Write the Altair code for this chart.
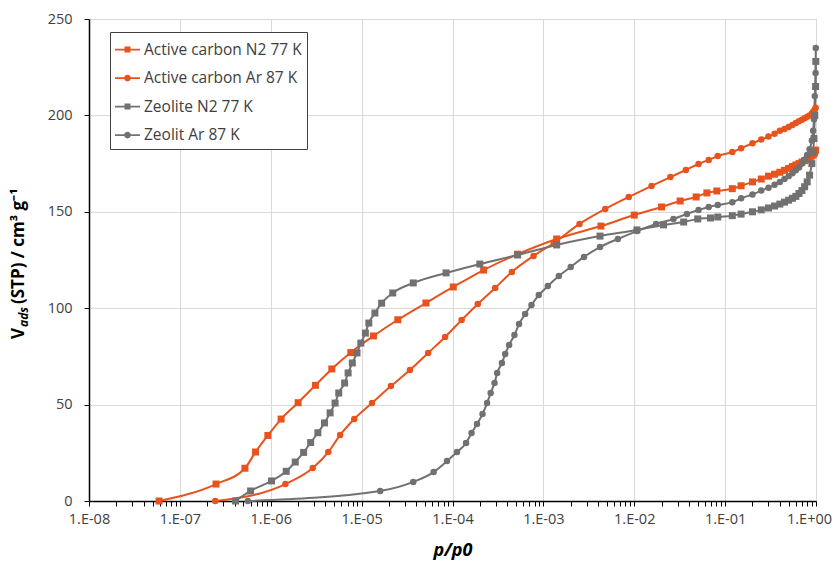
import altair as alt
import pandas as pd

SERIES = ["Active carbon N2 77 K", "Active carbon Ar 87 K", "Zeolite N2 77 K", "Zeolit Ar 87 K"]
COLORS = ["#E8531D", "#E8531D", "#717171", "#717171"]
MARKERS = ["square", "circle", "square", "circle"]

# high-pressure relative pressures shared by the tails of all isotherms
TAIL_P = [0.12, 0.15, 0.2, 0.25, 0.3, 0.35, 0.4, 0.45, 0.5, 0.55, 0.6, 0.65,
          0.7, 0.75, 0.8, 0.85, 0.9, 0.93, 0.95, 0.97, 0.99]

ac_n2_p = [5.9e-8, 2.5e-7, 5.2e-7, 6.8e-7, 9.3e-7, 1.3e-6, 2.0e-6, 3.1e-6, 4.7e-6,
           7.6e-6, 1.35e-5, 2.5e-5, 5.1e-5, 1.02e-4, 2.2e-4, 5.2e-4, 1.4e-3, 4.3e-3,
           1.0e-2, 2.0e-2, 3.2e-2, 4.8e-2, 6.3e-2, 8.1e-2] + TAIL_P
ac_n2_v = [0, 8.8, 17, 25.4, 34, 42.5, 51, 60, 68.5, 77, 85.6, 94, 102.7, 111, 119.8,
           128, 135.9, 142.6, 148.3, 152.5, 155.6, 157.7, 159.8, 160.8,
           162, 163.5, 165.5, 167, 168.5, 169.5, 170.5, 171.5, 172.5, 173.5, 174.3,
           175, 175.8, 176.5, 177.2, 178, 179, 179.6, 180.2, 181, 182]

ac_ar_p = [2.45e-7, 1.45e-6, 2.9e-6, 4.3e-6, 5.8e-6, 8.3e-6, 1.3e-5, 2.1e-5, 3.4e-5,
           5.4e-5, 8.3e-5, 1.26e-4, 1.9e-4, 2.95e-4, 4.5e-4, 7.8e-4, 1.3e-3, 2.5e-3,
           4.8e-3, 8.7e-3, 1.55e-2, 2.5e-2, 3.7e-2, 5.1e-2, 6.6e-2, 8.3e-2] + TAIL_P
ac_ar_v = [0, 8.8, 17.1, 25.4, 34.2, 42.5, 50.8, 59.6, 67.9, 76.8, 85.1, 93.9, 102.2,
           110.5, 118.8, 127.1, 133.8, 143.7, 151.5, 157.7, 163.4, 168.0, 171.7, 174.8,
           176.9, 178.9,
           181, 183, 185.5, 187.5, 189, 190.5, 192, 193, 194, 195, 196, 197, 197.8,
           198.5, 199.3, 200, 201, 201.7, 202.3, 203, 204]

ze_n2_p = [4.1e-7, 6.0e-7, 1.02e-6, 1.48e-6, 1.86e-6, 2.3e-6, 2.75e-6, 3.3e-6, 3.9e-6,
           4.5e-6, 5.1e-6, 5.6e-6, 6.5e-6, 7.1e-6, 7.9e-6, 8.9e-6, 9.8e-6, 1.1e-5,
           1.2e-5, 1.4e-5, 1.66e-5, 2.2e-5, 3.7e-5, 8.5e-5, 2.0e-4, 5.2e-4, 1.4e-3,
           4.2e-3, 1.07e-2, 2.1e-2, 3.5e-2, 5.0e-2, 6.9e-2, 8.3e-2] + TAIL_P + [0.995]
ze_n2_v = [0, 5.2, 10.4, 15.4, 20.2, 25.2, 30.3, 35.4, 40.5, 45.7, 50.8, 56.0, 61.2,
           66.4, 71.6, 76.8, 81.9, 87.1, 92.3, 97.5, 102.6, 107.9, 113.1, 118.3, 122.9,
           127.6, 132.8, 137.4, 140.6, 143.2, 144.7, 146.3, 146.8, 147.3,
           148, 148.8, 150, 151, 152, 153, 154, 155, 156, 157, 158, 159.5, 161, 163,
           165.5, 169, 175, 181, 188, 200, 215, 228]

ze_ar_p = [5.6e-7, 1.6e-5, 3.7e-5, 6.2e-5, 8.7e-5, 1.12e-4, 1.41e-4, 1.62e-4, 1.86e-4,
           2.14e-4, 2.4e-4, 2.63e-4, 2.9e-4, 3.1e-4, 3.5e-4, 3.8e-4, 4.2e-4, 4.8e-4,
           5.4e-4, 6.3e-4, 7.4e-4, 8.9e-4, 1.12e-3, 1.48e-3, 2.0e-3, 2.8e-3, 4.2e-3,
           6.6e-3, 1.07e-2, 1.74e-2, 2.7e-2, 3.8e-2, 5.1e-2, 6.6e-2, 8.3e-2] + TAIL_P + [0.995]
ze_ar_v = [0, 5.2, 9.9, 15.0, 20.7, 25.4, 30.1, 35.3, 39.9, 45.1, 50.8, 56.0, 61.2, 66.4,
           71.6, 76.2, 80.9, 86.1, 91.8, 97.0, 101.7, 106.8, 111.5, 116.7, 121.4, 126.6,
           131.7, 135.9, 140.0, 143.7, 146.3, 148.9, 150.9, 152.5, 153.5,
           155, 157, 159, 161, 162.5, 164, 165.5, 167, 168.5, 170, 171.5, 173, 175, 177,
           179.5, 182.5, 187, 192, 198, 210, 222, 235]

X_MAJOR = [1e-8, 1e-7, 1e-6, 1e-5, 1e-4, 1e-3, 1e-2, 1e-1, 1.0]
X_MINOR = [m * 10.0 ** e for e in range(-8, 0) for m in range(2, 10)]
Y_TICKS = [0, 50, 100, 150, 200, 250]

rows = []
for name, ps, vs in zip(SERIES, [ac_n2_p, ac_ar_p, ze_n2_p, ze_ar_p],
                        [ac_n2_v, ac_ar_v, ze_n2_v, ze_ar_v]):
    for i, (p, v) in enumerate(zip(ps, vs)):
        rows.append({"series": name, "p": p, "v": v, "order": i})
df = pd.DataFrame(rows)

FONT = "Open Sans"
TEXT = "#404040"
W, H = 727, 482

is_major = "abs(log(datum.value)/LN10 - round(log(datum.value)/LN10)) < 1e-6"
label_expr = (f"({is_major}) ? (datum.value >= 1 ? '1.E+00' : "
              "'1.E-0' + toString(-round(log(datum.value)/LN10))) : ''")

x_enc = alt.X("p:Q", scale=alt.Scale(type="log", domain=[1e-8, 1], nice=False),
              axis=alt.Axis(values=X_MAJOR + X_MINOR, labelExpr=label_expr,
                            gridOpacity={"condition": {"test": is_major, "value": 1}, "value": 0},
                            labelOffset={"condition": {"test": "datum.value >= 0.999", "value": -7},
                                         "value": 0},
                            title="p/p0", titleFont=FONT, titleFontSize=18,
                            titleFontStyle="italic", titleFontWeight="bold",
                            titleColor="#000000", titlePadding=16,
                            labelFont=FONT, labelFontSize=14.5, labelColor=TEXT,
                            labelPadding=6, labelOverlap=False, labelFlush=False,
                            tickSize=5, tickColor="#000000", domainColor="#000000",
                            domainWidth=1.5, gridColor="#D9D9D9"))
y_enc = alt.Y("v:Q", scale=alt.Scale(domain=[0, 250], nice=False),
              axis=alt.Axis(values=Y_TICKS, title=None, labelFont=FONT, labelFontSize=14.5,
                            labelColor=TEXT, labelPadding=12, tickSize=5,
                            tickColor="#000000", domainColor="#000000", domainWidth=1.5,
                            gridColor="#D9D9D9"))

SQ_PATH = "M-1,-0.07L1,-0.07L1,0.07L-1,0.07Z M-0.24,-0.24L0.24,-0.24L0.24,0.24L-0.24,0.24Z"
CI_PATH = ("M-1,-0.07L1,-0.07L1,0.07L-1,0.07Z "
           "M0.27,0A0.27,0.27 0 1,1 -0.27,0A0.27,0.27 0 1,1 0.27,0Z")

legend = alt.Legend(title=None, orient="none", legendX=21, legendY=13,
                    labelFont=FONT, labelFontSize=15.5, labelColor=TEXT,
                    symbolSize=625, symbolStrokeWidth=0, rowPadding=7.5,
                    labelOffset=4, padding=5, strokeColor="#404040",
                    fillColor="#FFFFFF", symbolOpacity=1)
color_enc = alt.Color("series:N", scale=alt.Scale(domain=SERIES, range=COLORS), legend=legend)

base = alt.Chart(df)

lines = base.mark_line(strokeWidth=2, interpolate="monotone").encode(
    x=x_enc, y=y_enc, color=color_enc, order="order:Q", detail="series:N")

layers = [lines]
for name, marker in zip(SERIES, MARKERS):
    layers.append(base.transform_filter(alt.datum.series == name).mark_point(
        filled=True, opacity=1, shape=marker, size=49 if marker == "square" else 42
    ).encode(x=x_enc, y=y_enc, color=color_enc))

legend_layer = base.mark_point(filled=True, opacity=1, clip=True, size=625).encode(
    x=x_enc, y=alt.value(-2000), color=color_enc,
    shape=alt.Shape("series:N", scale=alt.Scale(domain=SERIES,
                    range=[SQ_PATH, CI_PATH, SQ_PATH, CI_PATH]), legend=legend))
layers.append(legend_layer)

def title_piece(txt, x, y, size, style="normal"):
    return alt.Chart(pd.DataFrame({"t": [txt]})).mark_text(
        angle=270, align="left", baseline="middle", font=FONT, fontSize=size,
        fontWeight="bold", fontStyle=style, color="#000000"
    ).encode(text="t:N", x=alt.value(x), y=alt.value(y))

layers.append(title_piece("V", -70, 320, 17))
layers.append(title_piece("ads", -65, 308, 12, "italic"))
layers.append(title_piece("(STP) / cm³ g⁻¹", -70, 285, 17))

chart = alt.layer(*layers).properties(
    width=W, height=H, autosize="none",
    padding={"left": 81, "top": 11, "right": 16, "bottom": 62},
).configure_view(stroke="#000000", strokeWidth=1.5).configure(background="#FFFFFF")

chart.save("out.html", embed_options={"renderer": "svg", "actions": False})
